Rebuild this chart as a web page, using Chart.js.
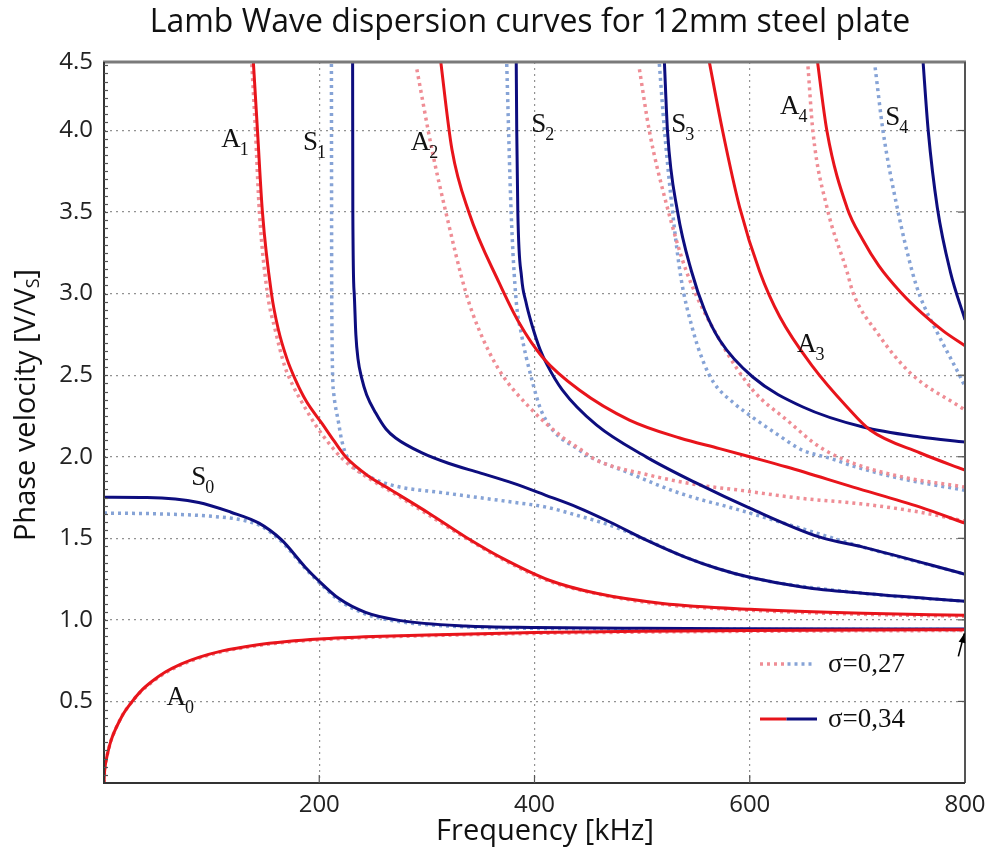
<!DOCTYPE html>
<html>
<head>
<meta charset="utf-8">
<title>Lamb Wave dispersion curves</title>
<script src="https://cdn.jsdelivr.net/npm/chart.js@4.4.0/dist/chart.umd.min.js"></script>
<style>
  html, body { margin: 0; padding: 0; background: #fff; }
  #wrap { width: 989px; height: 853px; }
</style>
</head>
<body>
<div id="wrap"><canvas id="lambChart" width="989" height="853"></canvas></div>
<script>
// Axis ranges and ticks
const X_MIN = 0, X_MAX = 800;
const Y_MIN = 0, Y_MAX = 4.42;
const xTicks = [0, 200, 400, 600, 800];
const xTickLabels = ['', '200', '400', '600', '800'];
const yTicks = [0.5, 1.0, 1.5, 2.0, 2.5, 3.0, 3.5, 4.0, Y_MAX];
const yTickLabels = ['0.5', '1.0', '1.5', '2.0', '2.5', '3.0', '3.5', '4.0', '4.5'];

// sigma = 0,34 (solid) : [frequency kHz, phase velocity V/Vs]
const a0Solid = [[0,0],[0.3,0.05],[1,0.1],[2,0.14],[4,0.2],[6.5,0.26],[10,0.32],[14,0.375],[18,0.425],[25,0.49],[34.5,0.565],[45,0.625],[57,0.68],[72,0.73],[88,0.77],[110,0.81],[140,0.845],[170,0.868],[200,0.883],[250,0.898],[300,0.908],[400,0.922],[500,0.93],[600,0.935],[700,0.938],[800,0.94]];
const s0Solid = [[0,1.752],[40,1.75],[88,1.72],[118,1.66],[144,1.593],[165,1.49],[187,1.323],[199,1.243],[218,1.132],[243,1.046],[274,0.997],[336,0.962],[400,0.953],[500,0.948],[600,0.946],[800,0.944]];
const a1Solid = [[138.5,4.45],[142.6,4.0],[147.2,3.5],[155.6,3.0],[162,2.78],[170,2.6],[178,2.47],[188,2.34],[203,2.2],[213.4,2.1],[224.5,2.0],[246,1.88],[264.6,1.805],[301.9,1.654],[336.3,1.507],[373.6,1.366],[413.7,1.243],[457.5,1.163],[519,1.101],[600,1.065],[705.3,1.04],[800,1.028]];
const s1Solid = [[231,4.45],[231.2,3.5],[232.5,3.0],[234,2.75],[236,2.6],[239.5,2.48],[244,2.38],[252.5,2.268],[262,2.17],[271,2.115],[295,2.025],[320,1.96],[350,1.9],[380,1.838],[410,1.765],[440,1.69],[470,1.6],[504,1.489],[540,1.385],[570,1.315],[600,1.261],[650,1.2],[705,1.163],[800,1.114]];
const a2Solid = [[312,4.47],[323.3,3.883],[339.1,3.497],[367.1,3.067],[385.7,2.821],[407.2,2.612],[441.6,2.409],[488.2,2.225],[535,2.115],[572,2.05],[600,2.0],[634.5,1.937],[696,1.814],[758.4,1.691],[800,1.593]];
const s2Solid = [[383,4.45],[383.5,4.0],[384.5,3.5],[388,3.1],[392,2.95],[398,2.8],[405,2.66],[412,2.56],[425.8,2.41],[457.5,2.195],[504.1,1.998],[550.6,1.838],[600,1.685],[665.2,1.507],[705.3,1.446],[800,1.28]];
const a3Solid = [[561,4.47],[574.9,3.994],[590.7,3.527],[609.3,3.134],[627.9,2.858],[658.7,2.551],[690.4,2.305],[711.8,2.164],[758.4,2.023],[800,1.918]];
const s3Solid = [[520.5,4.45],[523.6,3.994],[532.9,3.503],[546,3.134],[558,2.9],[572,2.716],[602.8,2.489],[649.4,2.305],[705.3,2.182],[758.4,2.121],[800,2.09]];
const a4Solid = [[662,4.47],[671.8,3.994],[690.4,3.527],[705,3.33],[720,3.17],[740,3.01],[760,2.88],[780,2.77],[800,2.68]];
const s4Solid = [[760.5,4.47],[765.9,3.994],[774.3,3.527],[786.4,3.134],[800,2.84]];

// sigma = 0,27 (dotted)
const a0Dotted = [[0,0],[0.3,0.05],[1,0.1],[2,0.14],[4,0.2],[6.5,0.26],[10,0.32],[14,0.375],[18,0.425],[25,0.49],[34.5,0.562],[45,0.62],[57,0.675],[72,0.725],[88,0.765],[110,0.805],[140,0.84],[170,0.863],[200,0.878],[250,0.893],[300,0.903],[400,0.917],[500,0.925],[600,0.93],[800,0.935]];
const s0Dotted = [[0,1.655],[50,1.65],[100,1.635],[130,1.61],[146,1.575],[165,1.48],[187,1.315],[199,1.235],[218,1.122],[243,1.036],[274,0.99],[336,0.957],[400,0.948],[800,0.94]];
const a1Dotted = [[137,4.45],[140.7,4.0],[144.4,3.5],[151.9,3.0],[159,2.78],[167.7,2.56],[176,2.43],[186,2.31],[197,2.19],[208.7,2.085],[222.7,1.98],[246,1.868],[264.6,1.795],[301.9,1.642],[336.3,1.501],[373.6,1.36],[413.7,1.237],[460.3,1.157],[519,1.095],[600,1.059],[705.3,1.034],[800,1.022]];
const s1Dotted = [[211.3,4.45],[211.6,2.962],[213.4,2.391],[218,2.207],[220.8,2.102],[227.3,1.98],[246,1.881],[267.4,1.826],[317.7,1.777],[379.2,1.722],[410.9,1.691],[440,1.64],[472.4,1.575],[504.1,1.49],[540,1.385],[600,1.261],[705.3,1.163],[800,1.114]];
const a2Dotted = [[290.7,4.375],[304.7,3.883],[317.7,3.497],[336.3,3.005],[348.5,2.778],[367.1,2.532],[395,2.305],[425.8,2.121],[441.6,2.05],[457.5,1.98],[506.8,1.887],[553.4,1.826],[590.7,1.795],[646.6,1.746],[702.5,1.712],[758.4,1.66],[800,1.605]];
const s2Dotted = [[374,4.45],[378.3,3.497],[382.9,2.962],[387.6,2.76],[396.9,2.489],[407.2,2.268],[441.6,2.041],[488.2,1.9],[534.8,1.777],[590.7,1.673],[646.6,1.563],[705.3,1.446],[800,1.28]];
const a3Dotted = [[497.5,4.375],[506.8,3.994],[522.7,3.546],[541.3,3.134],[572,2.716],[602.8,2.409],[634.5,2.225],[665.2,2.059],[696,1.961],[742.6,1.875],[800,1.814]];
const s3Dotted = [[515.5,4.45],[520.8,4.0],[528.3,3.5],[536,3.1],[547,2.78],[557,2.58],[567,2.45],[585,2.33],[603,2.24],[625,2.14],[649,2.04],[675,1.99],[696,1.943],[742.6,1.863],[800,1.795]];
const a4Dotted = [[654.1,4.393],[658.7,3.994],[671.8,3.527],[690.4,3.134],[696,3.005],[718.4,2.76],[749.1,2.514],[795.7,2.305],[800,2.287]];
const s4Dotted = [[716.5,4.387],[723.9,3.994],[737,3.527],[751,3.134],[758.4,2.981],[774.3,2.76],[795.7,2.489],[800,2.43]];

// Mode labels: letter, subscript, left/baseline position in data units
const modeLabels = [
    ['A', '0', 58, 0.476],
    ['S', '0', 81, 1.827],
    ['A', '1', 109, 3.90],
    ['S', '1', 185, 3.883],
    ['A', '2', 285, 3.883],
    ['S', '2', 397, 3.99],
    ['S', '3', 527, 3.99],
    ['A', '3', 644, 2.643],
    ['A', '4', 628, 4.10],
    ['S', '4', 726, 4.035]
];

const RED = '#e8141b';
const NAVY = '#0d0d7e';
const PINK = '#ef8d95';
const LIGHT_BLUE = '#86a3d6';
const GRID = 'rgba(110,110,110,0.75)';
const SANS = '"Open Sans", "Noto Sans", sans-serif';
const SERIF = '"Liberation Serif", "DejaVu Serif", serif';

function toPoints(pairs) {
    return pairs.map(p => ({ x: p[0], y: p[1] }));
}

function solid(pairs, color) {
    return {
        data: toPoints(pairs),
        borderColor: color,
        borderWidth: 3,
        pointRadius: 0,
        cubicInterpolationMode: 'monotone',
        fill: false,
        order: 1
    };
}

function dotted(pairs, color) {
    return {
        data: toPoints(pairs),
        borderColor: color,
        borderWidth: 3.5,
        borderDash: [3, 4],
        pointRadius: 0,
        cubicInterpolationMode: 'monotone',
        fill: false,
        order: 2
    };
}

const datasets = [
    solid(a0Solid, RED), solid(a1Solid, RED), solid(a2Solid, RED), solid(a3Solid, RED), solid(a4Solid, RED),
    solid(s0Solid, NAVY), solid(s1Solid, NAVY), solid(s2Solid, NAVY), solid(s3Solid, NAVY), solid(s4Solid, NAVY),
    dotted(a0Dotted, PINK), dotted(a1Dotted, PINK), dotted(a2Dotted, PINK), dotted(a3Dotted, PINK), dotted(a4Dotted, PINK),
    dotted(s0Dotted, LIGHT_BLUE), dotted(s1Dotted, LIGHT_BLUE), dotted(s2Dotted, LIGHT_BLUE), dotted(s3Dotted, LIGHT_BLUE), dotted(s4Dotted, LIGHT_BLUE)
];

// Frame, ticks, mode labels, legend, titles
const decorations = {
    id: 'decorations',
    beforeDraw(chart) {
        const ctx = chart.ctx;
        ctx.save();
        ctx.fillStyle = '#fff';
        ctx.fillRect(0, 0, chart.width, chart.height);
        ctx.restore();
    },
    afterDatasetsDraw(chart) {
        const { ctx, chartArea: a } = chart;
        const x = chart.scales.x, y = chart.scales.y;
        ctx.save();

        // frame
        ctx.lineCap = 'butt';
        ctx.strokeStyle = '#7a7a7a';
        ctx.lineWidth = 3;
        ctx.beginPath(); ctx.moveTo(a.left - 1, a.top); ctx.lineTo(a.right + 1, a.top); ctx.stroke();
        ctx.strokeStyle = '#555';
        ctx.lineWidth = 2;
        ctx.beginPath(); ctx.moveTo(a.right, a.top); ctx.lineTo(a.right, a.bottom); ctx.stroke();
        ctx.strokeStyle = '#333';
        ctx.beginPath(); ctx.moveTo(a.left, a.top); ctx.lineTo(a.left, a.bottom); ctx.lineTo(a.right, a.bottom); ctx.stroke();

        // inward ticks
        ctx.lineWidth = 1.2;
        ctx.strokeStyle = '#555';
        xTicks.slice(1, -1).forEach(v => {
            const px = x.getPixelForValue(v);
            ctx.beginPath(); ctx.moveTo(px, a.bottom); ctx.lineTo(px, a.bottom - 8); ctx.stroke();
        });
        yTicks.slice(0, -1).forEach(v => {
            const py = y.getPixelForValue(v);
            ctx.beginPath(); ctx.moveTo(a.right, py); ctx.lineTo(a.right - 7, py); ctx.stroke();
        });
        for (let v = 0.05; v < Y_MAX; v += 0.05) {
            const py = Math.round(y.getPixelForValue(v)) + 0.5;
            ctx.beginPath(); ctx.moveTo(a.left, py); ctx.lineTo(a.left + 4, py); ctx.stroke();
        }

        // mode labels
        ctx.fillStyle = '#111';
        ctx.textBaseline = 'alphabetic';
        ctx.textAlign = 'left';
        modeLabels.forEach(([m, n, f, v]) => {
            const px = x.getPixelForValue(f);
            const py = y.getPixelForValue(v);
            ctx.font = '27px ' + SERIF;
            ctx.fillText(m, px, py);
            const w = ctx.measureText(m).width;
            ctx.font = '18px ' + SERIF;
            ctx.fillText(n, px + w - 1, py + 8);
        });

        // legend
        const lx0 = a.right - 205, lx1 = a.right - 152, lmid = (lx0 + lx1) / 2;
        const row1 = a.bottom - 119, row2 = a.bottom - 64;
        ctx.lineWidth = 3.5;
        ctx.setLineDash([3, 4]);
        ctx.strokeStyle = PINK;
        ctx.beginPath(); ctx.moveTo(lx0, row1); ctx.lineTo(lmid, row1); ctx.stroke();
        ctx.strokeStyle = LIGHT_BLUE;
        ctx.beginPath(); ctx.moveTo(lmid + 1, row1); ctx.lineTo(lx1, row1); ctx.stroke();
        ctx.setLineDash([]);
        ctx.lineWidth = 3;
        ctx.strokeStyle = RED;
        ctx.beginPath(); ctx.moveTo(lx0, row2); ctx.lineTo(lmid, row2); ctx.stroke();
        ctx.strokeStyle = NAVY;
        ctx.beginPath(); ctx.moveTo(lmid, row2); ctx.lineTo(lx1 + 4, row2); ctx.stroke();
        ctx.font = '27px ' + SERIF;
        ctx.fillStyle = '#111';
        ctx.textBaseline = 'middle';
        ctx.fillText('\u03c3=0,27', a.right - 137, row1 + 1);
        ctx.fillText('\u03c3=0,34', a.right - 137, row2 + 1);

        // small arrow at the right edge
        const tx = x.getPixelForValue(793.8), ty = y.getPixelForValue(0.776);
        const hx = x.getPixelForValue(799.4), hy = y.getPixelForValue(0.917);
        ctx.strokeStyle = '#000';
        ctx.lineWidth = 1.6;
        ctx.beginPath(); ctx.moveTo(tx, ty); ctx.lineTo(hx, hy); ctx.stroke();
        const ang = Math.atan2(hy - ty, hx - tx);
        ctx.fillStyle = '#000';
        ctx.beginPath();
        ctx.moveTo(hx, hy);
        ctx.lineTo(hx - 10 * Math.cos(ang - 0.35), hy - 10 * Math.sin(ang - 0.35));
        ctx.lineTo(hx - 10 * Math.cos(ang + 0.35), hy - 10 * Math.sin(ang + 0.35));
        ctx.closePath(); ctx.fill();

        // chart title
        ctx.fillStyle = '#111';
        ctx.textAlign = 'center';
        ctx.textBaseline = 'middle';
        ctx.font = '32px ' + SANS;
        ctx.fillText('Lamb Wave dispersion curves for 12mm steel plate', 530, 23);

        // x axis title
        ctx.font = '29px ' + SANS;
        ctx.fillText('Frequency [kHz]', 545, 832);

        // y axis title with subscript
        ctx.translate(27, 405);
        ctx.rotate(-Math.PI / 2);
        ctx.textAlign = 'left';
        const main = 'Phase velocity [V/V', tail = ']';
        ctx.font = '29px ' + SANS;
        const w1 = ctx.measureText(main).width, w3 = ctx.measureText(tail).width;
        ctx.font = '18px ' + SANS;
        const w2 = ctx.measureText('S').width;
        const sx = -(w1 + w2 + w3) / 2;
        ctx.font = '29px ' + SANS;
        ctx.fillText(main, sx, 0);
        ctx.font = '18px ' + SANS;
        ctx.fillText('S', sx + w1, 7);
        ctx.font = '29px ' + SANS;
        ctx.fillText(tail, sx + w1 + w2, 0);

        ctx.restore();
    }
};

new Chart(document.getElementById('lambChart'), {
    type: 'line',
    data: { datasets: datasets },
    options: {
        responsive: false,
        animation: false,
        layout: { padding: { top: 62, right: 24, bottom: 0, left: 0 } },
        plugins: {
            legend: { display: false },
            tooltip: { enabled: false },
            title: { display: false }
        },
        scales: {
            x: {
                type: 'linear',
                min: X_MIN,
                max: X_MAX,
                afterFit: s => { s.height = 70; s.paddingLeft = 0; s.paddingRight = 0; },
                afterBuildTicks: s => { s.ticks = xTicks.map(v => ({ value: v })); },
                ticks: {
                    padding: 8,
                    color: '#222',
                    font: { family: SANS, size: 24 },
                    maxRotation: 0,
                    callback: (v, i) => xTickLabels[i]
                },
                grid: { color: GRID, lineWidth: 1.2, drawTicks: false },
                border: { display: false, dash: [2, 4] }
            },
            y: {
                type: 'linear',
                min: Y_MIN,
                max: Y_MAX,
                afterFit: s => { s.width = 104; },
                afterBuildTicks: s => { s.ticks = yTicks.map(v => ({ value: v })); },
                ticks: {
                    padding: 11,
                    color: '#222',
                    font: { family: SANS, size: 24 },
                    callback: (v, i) => yTickLabels[i]
                },
                grid: { color: GRID, lineWidth: 1.2, drawTicks: false },
                border: { display: false, dash: [2, 4] }
            }
        }
    },
    plugins: [decorations]
});
</script>
</body>
</html>
